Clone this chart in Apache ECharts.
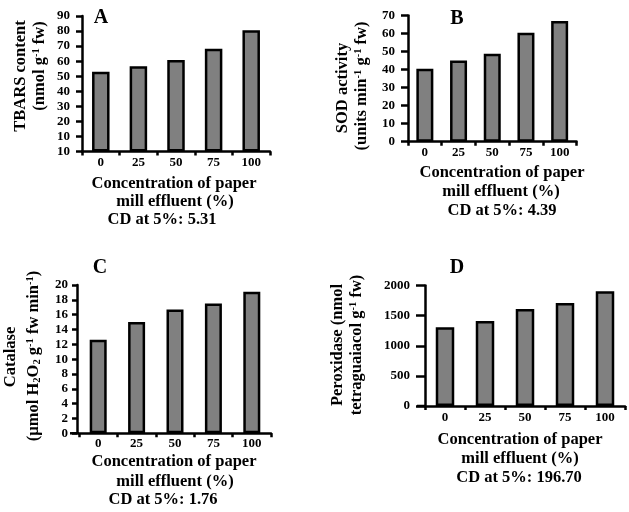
<!DOCTYPE html>
<html><head><meta charset="utf-8">
<script src="https://cdn.jsdelivr.net/npm/echarts@6/dist/echarts.min.js"></script>
<style>html,body{margin:0;padding:0;background:#fff}#c{width:629px;height:512px}</style>
</head><body><div id="c"></div>
<script>
// ---- data ----
const categories = ['0', '25', '50', '75', '100'];
const tbarsValues = [53, 56.7, 60.7, 68.3, 80.5];
const sodValues = [40.5, 45, 48.8, 60.5, 67];
const catalaseValues = [12.6, 15.0, 16.7, 17.5, 19.1];
const peroxidaseValues = [1305, 1410, 1610, 1710, 1905];
const tbarsTicks = ['10', '10', '20', '30', '40', '50', '60', '70', '80', '90'];
const sodTicks = ['0', '10', '20', '30', '40', '50', '60', '70'];
const catalaseTicks = ['0', '2', '4', '6', '8', '10', '12', '14', '16', '18', '20'];
const peroxidaseTicks = ['0', '500', '1000', '1500', '2000'];
const panelLetters = ['A', 'B', 'C', 'D'];
const xTitleLine1 = 'Concentration of paper';
const xTitleLine2 = 'mill effluent (%)';
const cdTexts = ['CD at 5%: 5.31', 'CD at 5%: 4.39', 'CD at 5%: 1.76', 'CD at 5%: 196.70'];
const yTitles = [
  ['TBARS content', '(nmol g{sup|-1} fw)'],
  ['SOD activity', '(units min{sup|-1} g{sup|-1} fw)'],
  ['Catalase', '(µmol H{sub|2}O{sub|2} g{sup|-1} fw min{sup|-1})'],
  ['Peroxidase (nmol', 'tetraguaiacol g{sup|-1} fw)']
];

// ---- layout ----
const FONT = "'Liberation Serif','Times New Roman',serif";
const series = [tbarsValues, sodValues, catalaseValues, peroxidaseValues];
const tickSets = [tbarsTicks, sodTicks, catalaseTicks, peroxidaseTicks];
const panels = [
  {grid: {left: 82, top: 16, width: 188, height: 135.5}, max: 90, step: 10, barW: 17.5, tickLen: 6, lm: 12, xm: 4.5, off: 0,
   letter: [101, 18], xt: [[174, 184], [175, 202], [162, 220]], yt: [[21, 76], [40, 66]]},
  {grid: {left: 408, top: 15.5, width: 168.5, height: 126.2}, max: 70, step: 10, barW: 17, tickLen: 7, lm: 13, xm: 4, off: 0,
   letter: [457, 19], xt: [[502, 173], [501, 192], [502, 211]], yt: [[343, 88], [362, 86]]},
  {grid: {left: 79, top: 285, width: 192, height: 148.3}, max: 20, step: 2, barW: 17, tickLen: 5, lm: 9, xm: 3.5, off: 2,
   letter: [100, 268], xt: [[174, 462], [175, 482], [163, 500]], yt: [[11, 357], [34, 356]], ext: [70, 79]},
  {grid: {left: 425, top: 285.5, width: 200, height: 120.5}, max: 2000, step: 500, barW: 18.5, tickLen: 9, lm: 15, xm: 5.5, off: 0,
   letter: [457, 268], xt: [[520, 440], [520, 459], [519, 478]], yt: [[338, 345], [357, 345]], ext: [417, 425]}
];

const lineStyle = {color: '#000', width: 2.5};
const labelBase = {color: '#000', fontFamily: FONT, fontWeight: 'bold', fontSize: 13};
const TS = 16.5;
const richStyles = {
  sup: {fontFamily: FONT, fontWeight: 'bold', fontSize: 10.5, lineHeight: 10, verticalAlign: 'top', fill: '#000'},
  sub: {fontFamily: FONT, fontWeight: 'bold', fontSize: 10.5, lineHeight: 10, verticalAlign: 'bottom', fill: '#000'}
};

function text(x, y, str, size, rot) {
  return {
    type: 'text', x: x, y: y, rotation: rot || 0, silent: true,
    style: {
      text: str, fill: '#000', fontFamily: FONT, fontWeight: 'bold', fontSize: size,
      font: 'bold ' + size + 'px ' + FONT, lineHeight: 18,
      textAlign: 'center', textVerticalAlign: 'middle', align: 'center', verticalAlign: 'middle',
      rich: richStyles
    }
  };
}

const grids = [], xAxes = [], yAxes = [], bars = [], graphics = [];
panels.forEach(function (p, i) {
  grids.push(Object.assign({outerBoundsMode: 'none', containLabel: false}, p.grid));
  xAxes.push({
    gridIndex: i, type: 'category', data: categories, boundaryGap: true,
    axisLine: {show: true, lineStyle: lineStyle},
    axisTick: {show: true, length: 4, alignWithLabel: false, interval: 0, lineStyle: lineStyle},
    axisLabel: Object.assign({margin: p.xm, interval: 0}, labelBase),
    splitLine: {show: false}
  });
  const ticks = tickSets[i];
  const step = p.step;
  yAxes.push({
    gridIndex: i, type: 'value', min: 0, max: p.max, interval: p.step, offset: p.off,
    axisLine: {show: true, lineStyle: lineStyle},
    axisTick: {show: true, length: p.tickLen, lineStyle: lineStyle},
    axisLabel: Object.assign({margin: p.lm, showMinLabel: true, showMaxLabel: true,
      formatter: function (v) { return ticks[Math.round(v / step)]; }}, labelBase),
    splitLine: {show: false}
  });
  bars.push({
    type: 'bar', xAxisIndex: i, yAxisIndex: i, data: series[i], barWidth: p.barW,
    itemStyle: {color: '#808080', borderColor: '#000', borderWidth: 2.5},
    silent: true, animation: false
  });
  graphics.push(text(p.letter[0], p.letter[1], panelLetters[i], 20, 0));
  graphics.push(text(p.xt[0][0], p.xt[0][1], xTitleLine1, TS, 0));
  graphics.push(text(p.xt[1][0], p.xt[1][1], xTitleLine2, TS, 0));
  graphics.push(text(p.xt[2][0], p.xt[2][1], cdTexts[i], TS, 0));
  graphics.push(text(p.yt[0][0], p.yt[0][1], yTitles[i][0], TS, Math.PI / 2));
  graphics.push(text(p.yt[1][0], p.yt[1][1], yTitles[i][1], TS, Math.PI / 2));
  if (p.ext) {
    const yb = p.grid.top + p.grid.height;
    graphics.push({type: 'line', silent: true, shape: {x1: p.ext[0], y1: yb, x2: p.ext[1], y2: yb},
      style: {stroke: '#000', lineWidth: 2.5}});
  }
});

const chart = echarts.init(document.getElementById('c'), null, {renderer: 'canvas'});
chart.setOption({
  backgroundColor: '#fff',
  animation: false,
  grid: grids, xAxis: xAxes, yAxis: yAxes, series: bars,
  graphic: {elements: graphics}
});
</script></body></html>
